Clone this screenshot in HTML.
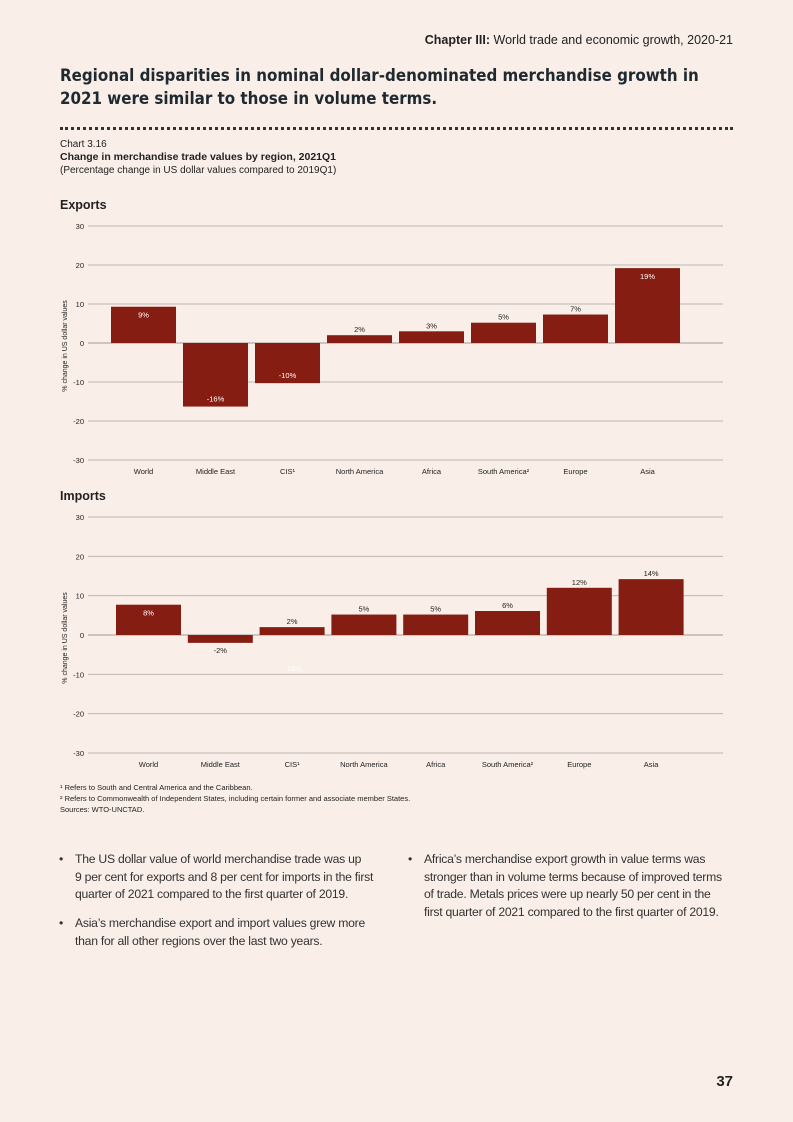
<!DOCTYPE html>
<html><head><meta charset="utf-8">
<style>
body{margin:0;width:793px;height:1122px;background:#f9eee8;position:relative;overflow:hidden;font-family:"Liberation Sans Narrow","Liberation Sans",sans-serif;color:#222;}
.a{position:absolute;white-space:nowrap;}
svg{position:absolute;left:0;top:0;}
svg text{font-family:"Liberation Sans",sans-serif;}
.bul{position:absolute;font-size:12.2px;line-height:17.6px;color:#333;letter-spacing:-0.25px;}
.bul span.d{position:absolute;left:-16px;}
</style></head><body>
<div class="a" style="right:60px;top:33px;font-size:12.5px;"><b>Chapter III:</b> World trade and economic growth, 2020-21</div>
<div class="a" style="left:60px;top:64px;font-size:16.8px;font-weight:bold;line-height:23px;color:#1f2a30;font-family:'DejaVu Sans Condensed','Liberation Sans',sans-serif;">Regional disparities in nominal dollar-denominated merchandise growth in<br>2021 were similar to those in volume terms.</div>
<div class="a" style="left:60px;top:127px;width:673px;border-top:3px dotted #333;"></div>
<div class="a" style="left:60px;top:139px;font-size:10px;">Chart 3.16</div>
<div class="a" style="left:60px;top:151px;font-size:10.5px;font-weight:bold;">Change in merchandise trade values by region, 2021Q1</div>
<div class="a" style="left:60px;top:165px;font-size:10px;">(Percentage change in US dollar values compared to 2019Q1)</div>
<div class="a" style="left:60px;top:198px;font-size:12.5px;font-weight:bold;">Exports</div>
<div class="a" style="left:60px;top:489px;font-size:12.5px;font-weight:bold;">Imports</div>
<svg id="chart" width="793" height="1122"></svg>
<div class="a" style="left:60px;top:783px;font-size:7.5px;">¹ Refers to South and Central America and the Caribbean.</div>
<div class="a" style="left:60px;top:794px;font-size:7.5px;">² Refers to Commonwealth of Independent States, including certain former and associate member States.</div>
<div class="a" style="left:60px;top:805px;font-size:7.5px;">Sources: WTO-UNCTAD.</div>
<div class="bul" style="left:75px;top:851px;width:330px;"><span class="d">•</span>The US dollar value of world merchandise trade was up<br>9 per cent for exports and 8 per cent for imports in the first<br>quarter of 2021 compared to the first quarter of 2019.</div>
<div class="bul" style="left:75px;top:915px;width:330px;"><span class="d">•</span>Asia’s merchandise export and import values grew more<br>than for all other regions over the last two years.</div>
<div class="bul" style="left:424px;top:851px;width:330px;"><span class="d">•</span>Africa’s merchandise export growth in value terms was<br>stronger than in volume terms because of improved terms<br>of trade. Metals prices were up nearly 50 per cent in the<br>first quarter of 2021 compared to the first quarter of 2019.</div>
<div class="a" style="right:60px;top:1073px;font-size:15px;font-weight:bold;">37</div>
<script>
const categories=["World","Middle East","CIS¹","North America","Africa","South America²","Europe","Asia"];
const exportValues=[9.3,-16.3,-10.3,2,3,5.2,7.3,19.2];
const exportLabels=["9%","-16%","-10%","2%","3%","5%","7%","19%"];
const importValues=[7.7,-2,2,5.2,5.2,6.1,12,14.2];
const importLabels=["8%","-2%","2%","5%","5%","6%","12%","14%"];
const ticks=[30,20,10,0,-10,-20,-30];
const NS="http://www.w3.org/2000/svg";
const svg=document.getElementById('chart');
function mk(t,a,txt){const e=document.createElementNS(NS,t);for(const k in a)e.setAttribute(k,a[k]);if(txt!=null)e.textContent=txt;svg.appendChild(e);return e;}
function draw(cfg){
  const y=v=>cfg.y0-v*(cfg.y0-cfg.yTop)/30;
  const x=i=>cfg.x0+i*cfg.step;
  ticks.forEach(t=>{
    const l=mk('line',{x1:88,x2:723,y1:y(t),y2:y(t),stroke:'#bdb6b2','stroke-width':t===0?1.5:1});
    
    
    const tx=mk('text',{x:84,y:y(t)+3,'text-anchor':'end','font-size':7.5,fill:'#222'},t);
    
    
  });
  const yl=mk('text',{transform:`translate(67,${cfg.y0+3}) rotate(-90)`,'text-anchor':'middle','font-size':7,fill:'#222'},'% change in US dollar values');
  
  
  cfg.vals.forEach((v,i)=>{
    const top=Math.min(y(v),y(0)),h=Math.abs(y(v)-y(0));
    const r=mk('rect',{x:x(i),y:top,width:65,height:h,fill:'#861d12'});
    
    
    const cx=x(i)+32.5;
    let ly,col;
    const inside=cfg.inside[i];
    if(v>=0){ if(inside){ly=y(v)+11;col='#fff';}else{ly=y(v)-3;col='#222';} }
    else { if(inside){ly=y(v)-5;col='#fff';}else{ly=y(v)+10;col='#222';} }
    const lt=mk('text',{x:cx,y:ly,'text-anchor':'middle','font-size':7.5,fill:col},cfg.labels[i]);
    
    
    const ct=mk('text',{x:cx,y:cfg.catY,'text-anchor':'middle','font-size':7.5,fill:'#222'},categories[i]);
    
    
  });
}
draw({name:'exports',vals:exportValues,labels:exportLabels,inside:[1,1,1,0,0,0,0,1],y0:343,yTop:226,x0:111,step:72,catY:474});
draw({name:'imports',vals:importValues,labels:importLabels,inside:[1,0,0,0,0,0,0,0],y0:635,yTop:517,x0:116,step:71.8,catY:767});
const g=mk('text',{x:293,y:671,'text-anchor':'middle','font-size':7.5,fill:'#fff','fill-opacity':0.8},'-10%');


</script>
</body></html>
